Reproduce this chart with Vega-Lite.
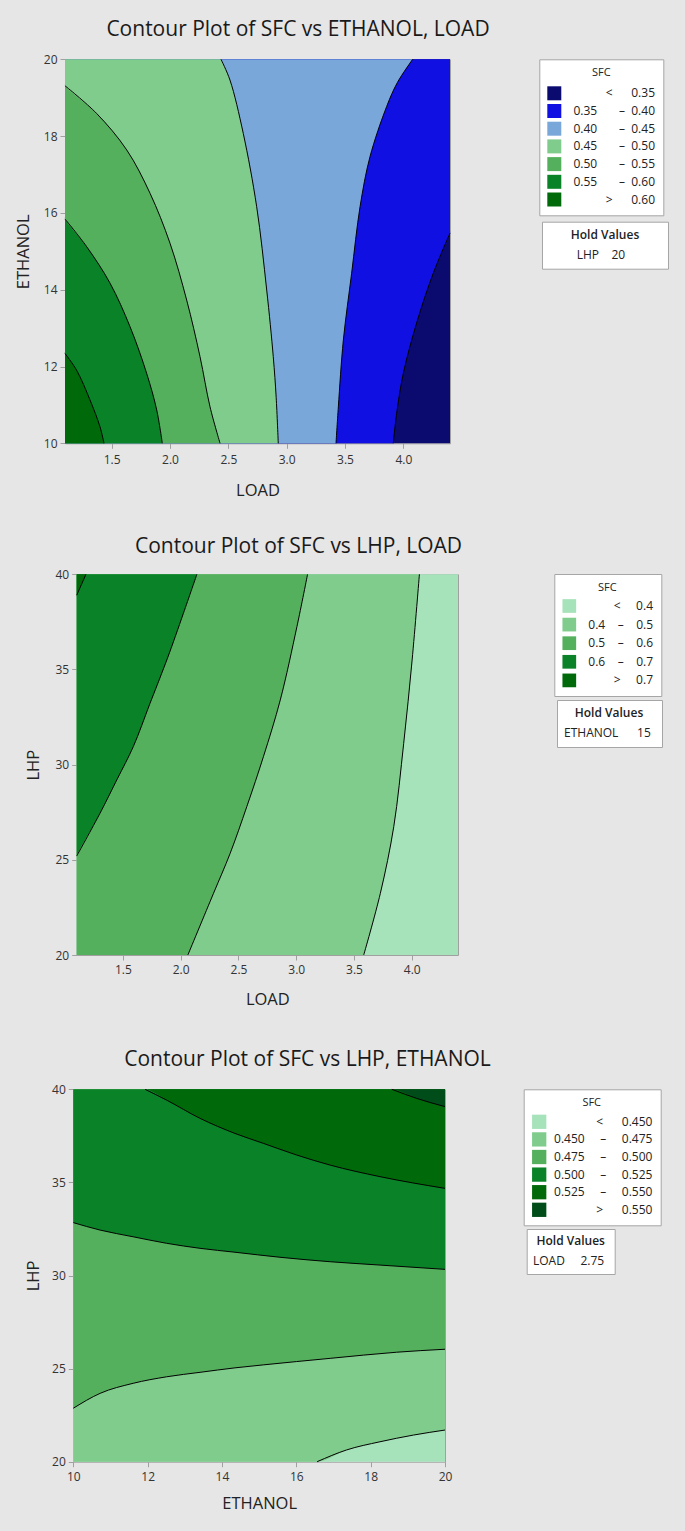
{
  "$schema": "https://vega.github.io/schema/vega-lite/v6.json",
  "width": 685,
  "height": 1531,
  "autosize": {"type": "none"},
  "padding": 0,
  "background": "#e6e6e6",
  "datasets": {
    "p1": [
      {"c": "bg", "band": "< 0.35", "LOAD": 4.5, "ETHANOL": 10},
      {"c": "bg", "band": "< 0.35", "LOAD": 4.5, "ETHANOL": 20},
      {"c": "F", "band": "0.35 – 0.40", "LOAD": 3.914, "ETHANOL": 10},
      {"c": "F", "band": "0.35 – 0.40", "LOAD": 3.943, "ETHANOL": 10.78},
      {"c": "F", "band": "0.35 – 0.40", "LOAD": 4.0, "ETHANOL": 11.82},
      {"c": "F", "band": "0.35 – 0.40", "LOAD": 4.114, "ETHANOL": 13.13},
      {"c": "F", "band": "0.35 – 0.40", "LOAD": 4.257, "ETHANOL": 14.43},
      {"c": "F", "band": "0.35 – 0.40", "LOAD": 4.4, "ETHANOL": 15.47},
      {"c": "F", "band": "0.35 – 0.40", "LOAD": 4.5, "ETHANOL": 15.55},
      {"c": "F", "band": "0.35 – 0.40", "LOAD": 4.5, "ETHANOL": 20},
      {"c": "E", "band": "0.40 – 0.45", "LOAD": 3.423, "ETHANOL": 10},
      {"c": "E", "band": "0.40 – 0.45", "LOAD": 3.443, "ETHANOL": 10.95},
      {"c": "E", "band": "0.40 – 0.45", "LOAD": 3.486, "ETHANOL": 12.69},
      {"c": "E", "band": "0.40 – 0.45", "LOAD": 3.557, "ETHANOL": 14.43},
      {"c": "E", "band": "0.40 – 0.45", "LOAD": 3.629, "ETHANOL": 16.16},
      {"c": "E", "band": "0.40 – 0.45", "LOAD": 3.714, "ETHANOL": 17.46},
      {"c": "E", "band": "0.40 – 0.45", "LOAD": 3.857, "ETHANOL": 18.77},
      {"c": "E", "band": "0.40 – 0.45", "LOAD": 3.95, "ETHANOL": 19.4},
      {"c": "E", "band": "0.40 – 0.45", "LOAD": 4.08, "ETHANOL": 20},
      {"c": "D", "band": "0.45 – 0.50", "LOAD": 2.928, "ETHANOL": 10},
      {"c": "D", "band": "0.45 – 0.50", "LOAD": 2.91, "ETHANOL": 11.2},
      {"c": "D", "band": "0.45 – 0.50", "LOAD": 2.885, "ETHANOL": 12.26},
      {"c": "D", "band": "0.45 – 0.50", "LOAD": 2.829, "ETHANOL": 13.99},
      {"c": "D", "band": "0.45 – 0.50", "LOAD": 2.743, "ETHANOL": 16.16},
      {"c": "D", "band": "0.45 – 0.50", "LOAD": 2.628, "ETHANOL": 18.07},
      {"c": "D", "band": "0.45 – 0.50", "LOAD": 2.514, "ETHANOL": 19.46},
      {"c": "D", "band": "0.45 – 0.50", "LOAD": 2.437, "ETHANOL": 20},
      {"c": "C", "band": "0.50 – 0.55", "LOAD": 2.429, "ETHANOL": 10},
      {"c": "C", "band": "0.50 – 0.55", "LOAD": 2.343, "ETHANOL": 10.95},
      {"c": "C", "band": "0.50 – 0.55", "LOAD": 2.257, "ETHANOL": 12.26},
      {"c": "C", "band": "0.50 – 0.55", "LOAD": 2.143, "ETHANOL": 13.73},
      {"c": "C", "band": "0.50 – 0.55", "LOAD": 2.0, "ETHANOL": 15.21},
      {"c": "C", "band": "0.50 – 0.55", "LOAD": 1.829, "ETHANOL": 16.51},
      {"c": "C", "band": "0.50 – 0.55", "LOAD": 1.629, "ETHANOL": 17.64},
      {"c": "C", "band": "0.50 – 0.55", "LOAD": 1.371, "ETHANOL": 18.59},
      {"c": "C", "band": "0.50 – 0.55", "LOAD": 1.1, "ETHANOL": 19.31},
      {"c": "C", "band": "0.50 – 0.55", "LOAD": 1.0, "ETHANOL": 19.36},
      {"c": "C", "band": "0.50 – 0.55", "LOAD": 1.0, "ETHANOL": 20},
      {"c": "B", "band": "0.55 – 0.60", "LOAD": 1.934, "ETHANOL": 10},
      {"c": "B", "band": "0.55 – 0.60", "LOAD": 1.886, "ETHANOL": 10.87},
      {"c": "B", "band": "0.55 – 0.60", "LOAD": 1.8, "ETHANOL": 11.82},
      {"c": "B", "band": "0.55 – 0.60", "LOAD": 1.657, "ETHANOL": 13.04},
      {"c": "B", "band": "0.55 – 0.60", "LOAD": 1.486, "ETHANOL": 14.17},
      {"c": "B", "band": "0.55 – 0.60", "LOAD": 1.286, "ETHANOL": 15.12},
      {"c": "B", "band": "0.55 – 0.60", "LOAD": 1.1, "ETHANOL": 15.84},
      {"c": "B", "band": "0.55 – 0.60", "LOAD": 1.0, "ETHANOL": 15.9},
      {"c": "B", "band": "0.55 – 0.60", "LOAD": 1.0, "ETHANOL": 20},
      {"c": "A", "band": "> 0.60", "LOAD": 1.434, "ETHANOL": 10},
      {"c": "A", "band": "> 0.60", "LOAD": 1.4, "ETHANOL": 10.43},
      {"c": "A", "band": "> 0.60", "LOAD": 1.314, "ETHANOL": 11.13},
      {"c": "A", "band": "> 0.60", "LOAD": 1.2, "ETHANOL": 11.9},
      {"c": "A", "band": "> 0.60", "LOAD": 1.1, "ETHANOL": 12.34},
      {"c": "A", "band": "> 0.60", "LOAD": 1.0, "ETHANOL": 12.4},
      {"c": "A", "band": "> 0.60", "LOAD": 1.0, "ETHANOL": 20}
    ],
    "p2": [
      {"c": "bg", "band": "< 0.4", "LOAD": 4.5, "LHP": 20},
      {"c": "bg", "band": "< 0.4", "LOAD": 4.5, "LHP": 40},
      {"c": "S", "band": "0.4 – 0.5", "LOAD": 3.584, "LHP": 20},
      {"c": "S", "band": "0.4 – 0.5", "LOAD": 3.728, "LHP": 23.24},
      {"c": "S", "band": "0.4 – 0.5", "LOAD": 3.844, "LHP": 26.74},
      {"c": "S", "band": "0.4 – 0.5", "LOAD": 3.93, "LHP": 31.12},
      {"c": "S", "band": "0.4 – 0.5", "LOAD": 4.003, "LHP": 35.5},
      {"c": "S", "band": "0.4 – 0.5", "LOAD": 4.066, "LHP": 40},
      {"c": "R", "band": "0.5 – 0.6", "LOAD": 2.062, "LHP": 20},
      {"c": "R", "band": "0.5 – 0.6", "LOAD": 2.284, "LHP": 23.24},
      {"c": "R", "band": "0.5 – 0.6", "LOAD": 2.428, "LHP": 25.34},
      {"c": "R", "band": "0.5 – 0.6", "LOAD": 2.573, "LHP": 27.81},
      {"c": "R", "band": "0.5 – 0.6", "LOAD": 2.717, "LHP": 30.44},
      {"c": "R", "band": "0.5 – 0.6", "LOAD": 2.862, "LHP": 33.4},
      {"c": "R", "band": "0.5 – 0.6", "LOAD": 3.006, "LHP": 37.25},
      {"c": "R", "band": "0.5 – 0.6", "LOAD": 3.098, "LHP": 40},
      {"c": "Q", "band": "0.6 – 0.7", "LOAD": 1.0, "LHP": 20},
      {"c": "Q", "band": "0.6 – 0.7", "LOAD": 1.0, "LHP": 25.1},
      {"c": "Q", "band": "0.6 – 0.7", "LOAD": 1.1, "LHP": 25.2},
      {"c": "Q", "band": "0.6 – 0.7", "LOAD": 1.302, "LHP": 27.45},
      {"c": "Q", "band": "0.6 – 0.7", "LOAD": 1.447, "LHP": 29.2},
      {"c": "Q", "band": "0.6 – 0.7", "LOAD": 1.59, "LHP": 30.95},
      {"c": "Q", "band": "0.6 – 0.7", "LOAD": 1.735, "LHP": 33.23},
      {"c": "Q", "band": "0.6 – 0.7", "LOAD": 1.88, "LHP": 35.5},
      {"c": "Q", "band": "0.6 – 0.7", "LOAD": 2.024, "LHP": 37.96},
      {"c": "Q", "band": "0.6 – 0.7", "LOAD": 2.14, "LHP": 40},
      {"c": "P", "band": "> 0.7", "LOAD": 1.0, "LHP": 20},
      {"c": "P", "band": "> 0.7", "LOAD": 1.0, "LHP": 38.8},
      {"c": "P", "band": "> 0.7", "LOAD": 1.1, "LHP": 38.9},
      {"c": "P", "band": "> 0.7", "LOAD": 1.18, "LHP": 40}
    ],
    "p3": [
      {"c": "bg", "band": "< 0.450", "ETHANOL": 10, "LHP": 19.5},
      {"c": "bg", "band": "< 0.450", "ETHANOL": 20, "LHP": 19.5},
      {"c": "V5", "band": "0.450 – 0.475", "ETHANOL": 10, "LHP": 19},
      {"c": "V5", "band": "0.450 – 0.475", "ETHANOL": 16.45, "LHP": 19.9},
      {"c": "V5", "band": "0.450 – 0.475", "ETHANOL": 16.56, "LHP": 20},
      {"c": "V5", "band": "0.450 – 0.475", "ETHANOL": 17.35, "LHP": 20.63},
      {"c": "V5", "band": "0.450 – 0.475", "ETHANOL": 18.25, "LHP": 21.07},
      {"c": "V5", "band": "0.450 – 0.475", "ETHANOL": 19.15, "LHP": 21.43},
      {"c": "V5", "band": "0.450 – 0.475", "ETHANOL": 20, "LHP": 21.7},
      {"c": "V4", "band": "0.475 – 0.500", "ETHANOL": 10, "LHP": 22.87},
      {"c": "V4", "band": "0.475 – 0.500", "ETHANOL": 10.72, "LHP": 23.67},
      {"c": "V4", "band": "0.475 – 0.500", "ETHANOL": 11.61, "LHP": 24.21},
      {"c": "V4", "band": "0.475 – 0.500", "ETHANOL": 12.51, "LHP": 24.56},
      {"c": "V4", "band": "0.475 – 0.500", "ETHANOL": 13.41, "LHP": 24.8},
      {"c": "V4", "band": "0.475 – 0.500", "ETHANOL": 14.35, "LHP": 25.04},
      {"c": "V4", "band": "0.475 – 0.500", "ETHANOL": 15.11, "LHP": 25.2},
      {"c": "V4", "band": "0.475 – 0.500", "ETHANOL": 16.91, "LHP": 25.55},
      {"c": "V4", "band": "0.475 – 0.500", "ETHANOL": 18.7, "LHP": 25.88},
      {"c": "V4", "band": "0.475 – 0.500", "ETHANOL": 20, "LHP": 26.04},
      {"c": "V3", "band": "0.500 – 0.525", "ETHANOL": 10, "LHP": 32.84},
      {"c": "V3", "band": "0.500 – 0.525", "ETHANOL": 10.72, "LHP": 32.44},
      {"c": "V3", "band": "0.500 – 0.525", "ETHANOL": 11.61, "LHP": 32.08},
      {"c": "V3", "band": "0.500 – 0.525", "ETHANOL": 12.51, "LHP": 31.73},
      {"c": "V3", "band": "0.500 – 0.525", "ETHANOL": 13.41, "LHP": 31.46},
      {"c": "V3", "band": "0.500 – 0.525", "ETHANOL": 14.35, "LHP": 31.25},
      {"c": "V3", "band": "0.500 – 0.525", "ETHANOL": 15.56, "LHP": 30.98},
      {"c": "V3", "band": "0.500 – 0.525", "ETHANOL": 16.91, "LHP": 30.74},
      {"c": "V3", "band": "0.500 – 0.525", "ETHANOL": 18.25, "LHP": 30.56},
      {"c": "V3", "band": "0.500 – 0.525", "ETHANOL": 20, "LHP": 30.33},
      {"c": "V2", "band": "0.525 – 0.550", "ETHANOL": 10, "LHP": 41},
      {"c": "V2", "band": "0.525 – 0.550", "ETHANOL": 11.85, "LHP": 40.1},
      {"c": "V2", "band": "0.525 – 0.550", "ETHANOL": 11.93, "LHP": 40},
      {"c": "V2", "band": "0.525 – 0.550", "ETHANOL": 12.51, "LHP": 39.42},
      {"c": "V2", "band": "0.525 – 0.550", "ETHANOL": 13.41, "LHP": 38.44},
      {"c": "V2", "band": "0.525 – 0.550", "ETHANOL": 14.35, "LHP": 37.63},
      {"c": "V2", "band": "0.525 – 0.550", "ETHANOL": 15.11, "LHP": 37.1},
      {"c": "V2", "band": "0.525 – 0.550", "ETHANOL": 16.01, "LHP": 36.47},
      {"c": "V2", "band": "0.525 – 0.550", "ETHANOL": 16.91, "LHP": 35.93},
      {"c": "V2", "band": "0.525 – 0.550", "ETHANOL": 18.25, "LHP": 35.31},
      {"c": "V2", "band": "0.525 – 0.550", "ETHANOL": 20, "LHP": 34.68},
      {"c": "V1", "band": "> 0.550", "ETHANOL": 10, "LHP": 41},
      {"c": "V1", "band": "> 0.550", "ETHANOL": 18.5, "LHP": 40.05},
      {"c": "V1", "band": "> 0.550", "ETHANOL": 18.57, "LHP": 40},
      {"c": "V1", "band": "> 0.550", "ETHANOL": 19.24, "LHP": 39.51},
      {"c": "V1", "band": "> 0.550", "ETHANOL": 20, "LHP": 39.07}
    ]
  },
  "layer": [
    {
      "data": {"name": "p1"},
      "layer": [
        {
          "mark": {"type": "area", "orient": "horizontal", "interpolate": "catmull-rom"},
          "encoding": {
            "y": {"field": "ETHANOL", "type": "quantitative",
              "scale": {"domain": [10, 20], "range": [443.3, 59.3], "clamp": true, "nice": false, "zero": false},
              "axis": {"orient": "left", "offset": -65, "values": [10, 12, 14, 16, 18, 20], "title": "ETHANOL", "titleX": -42, "titleY": 251.3, "titleAngle": 270, "titleBaseline": "middle", "titleAlign": "center", "labelPadding": 3}},
            "x": {"field": "LOAD", "type": "quantitative",
              "scale": {"domain": [1.1, 4.4], "range": [65, 450], "clamp": true, "nice": false, "zero": false},
              "axis": {"orient": "bottom", "offset": -1087.7, "values": [1.5, 2, 2.5, 3, 3.5, 4], "format": ".1f", "title": "LOAD", "titleY": 46.7, "titleBaseline": "middle", "labelPadding": 6}},
            "x2": {"datum": 1.1},
            "color": {"field": "band", "type": "nominal",
              "scale": {"domain": ["< 0.35", "0.35 – 0.40", "0.40 – 0.45", "0.45 – 0.50", "0.50 – 0.55", "0.55 – 0.60", "> 0.60"],
                        "range": ["#0b0b6f", "#1010e2", "#7aa7d9", "#80cc8c", "#55b05d", "#0a8228", "#006a0a"]},
              "legend": {"title": "SFC", "orient": "none", "legendX": 539.3, "legendY": 59.3, "direction": "vertical",
                "fillColor": "white", "strokeColor": "#a6a6a6", "padding": 8,
                "symbolType": "square", "symbolSize": 196, "symbolStrokeWidth": 0,
                "labelFontSize": 12, "labelColor": "#222222", "labelAlign": "right", "labelOffset": 93.7, "rowPadding": 3.7,
                "titleAnchor": "middle", "titleFontSize": 11, "titleFontWeight": "normal", "titleColor": "#222222", "titlePadding": 8,
                "labelExpr": "replace(replace(replace(datum.label, ' – ', '\u00a0\u00a0\u00a0\u00a0\u00a0\u00a0\u00a0–\u00a0\u00a0'), '< ', '<\u00a0\u00a0\u00a0\u00a0\u00a0\u00a0'), '> ', '>\u00a0\u00a0\u00a0\u00a0\u00a0\u00a0')"}}
          }
        },
        {
          "transform": [{"filter": "datum.LOAD >= 1.1 && datum.LOAD <= 4.4"}],
          "mark": {"type": "line", "color": "black", "strokeWidth": 1, "interpolate": "catmull-rom"},
          "encoding": {
            "x": {"field": "LOAD", "type": "quantitative",
              "axis": {"orient": "top", "offset": -59.3, "labels": false, "ticks": false, "title": "Contour Plot of SFC vs ETHANOL, LOAD", "titleFontSize": 21, "titleColor": "#1a1a1a", "titleX": 297.5, "titleY": -24.3, "titleAlign": "center", "titleBaseline": "alphabetic"}},
            "y": {"field": "ETHANOL", "type": "quantitative",
              "axis": {"orient": "right", "offset": -235, "labels": false, "ticks": false, "title": null}},
            "detail": {"field": "c"},
            "order": {"field": "ETHANOL", "type": "quantitative"}
          }
        },
        {
          "data": {"values": [{"hold": "LHP 20", "LOAD": 2.75, "ETHANOL": 15}]},
          "mark": {"type": "point", "opacity": 0},
          "encoding": {
            "x": {"field": "LOAD", "type": "quantitative", "axis": null},
            "y": {"field": "ETHANOL", "type": "quantitative", "axis": null},
            "shape": {"field": "hold", "type": "nominal",
              "legend": {"title": "Hold Values", "orient": "none", "legendX": 542, "legendY": 221.7,
                "fillColor": "white", "strokeColor": "#a6a6a6", "padding": 8,
                "symbolSize": 1, "symbolOpacity": 0, "symbolStrokeWidth": 0,
                "labelFontSize": 12, "labelColor": "#222222", "labelOffset": 14.7,
                "titleAnchor": "middle", "titleFontSize": 12, "titleFontWeight": 600, "titleColor": "#222222", "titlePadding": 7,
                "labelExpr": "replace(datum.label, ' ', '\u00a0\u00a0\u00a0\u00a0') + '\u00a0\u00a0\u00a0\u00a0\u00a0\u00a0\u00a0\u00a0\u00a0\u00a0\u00a0\u200b'"}}
          }
        }
      ],
      "resolve": {"axis": {"x": "independent", "y": "independent"}}
    },
    {
      "data": {"name": "p2"},
      "layer": [
        {
          "mark": {"type": "area", "orient": "horizontal", "interpolate": "catmull-rom"},
          "encoding": {
            "y": {"field": "LHP", "type": "quantitative",
              "scale": {"domain": [20, 40], "range": [955, 574.3], "clamp": true, "nice": false, "zero": false},
              "axis": {"orient": "left", "offset": -76.7, "values": [20, 25, 30, 35, 40], "title": "LHP", "titleX": -43.4, "titleY": 764.7, "titleAngle": 270, "titleBaseline": "middle", "titleAlign": "center", "labelPadding": 3}},
            "x": {"field": "LOAD", "type": "quantitative",
              "scale": {"domain": [1.1, 4.4], "range": [76.7, 458], "clamp": true, "nice": false, "zero": false},
              "axis": {"orient": "bottom", "offset": -576, "values": [1.5, 2, 2.5, 3, 3.5, 4], "format": ".1f", "title": "LOAD", "titleY": 44.3, "titleBaseline": "middle", "labelPadding": 4.5}},
            "x2": {"datum": 1.1},
            "color": {"field": "band", "type": "nominal",
              "scale": {"domain": ["< 0.4", "0.4 – 0.5", "0.5 – 0.6", "0.6 – 0.7", "> 0.7"],
                        "range": ["#a6e3bb", "#80cc8c", "#55b05d", "#0a8228", "#006a0a"]},
              "legend": {"title": "SFC", "orient": "none", "legendX": 554.3, "legendY": 574, "direction": "vertical",
                "fillColor": "white", "strokeColor": "#a6a6a6", "padding": 8,
                "symbolType": "square", "symbolSize": 188, "symbolStrokeWidth": 0,
                "labelFontSize": 12, "labelColor": "#222222", "labelAlign": "right", "labelOffset": 76.7, "rowPadding": 4.6,
                "titleAnchor": "middle", "titleFontSize": 11, "titleFontWeight": "normal", "titleColor": "#222222", "titlePadding": 6,
                "labelExpr": "replace(replace(replace(datum.label, ' – ', '\u00a0\u00a0\u00a0\u00a0–\u00a0\u00a0\u00a0\u00a0'), '< ', '<\u00a0\u00a0\u00a0\u00a0\u00a0'), '> ', '>\u00a0\u00a0\u00a0\u00a0\u00a0')"}}
          }
        },
        {
          "transform": [{"filter": "datum.LOAD >= 1.1 && datum.LOAD <= 4.4"}],
          "mark": {"type": "line", "color": "black", "strokeWidth": 1, "interpolate": "catmull-rom"},
          "encoding": {
            "x": {"field": "LOAD", "type": "quantitative",
              "axis": {"orient": "top", "offset": -574.3, "labels": false, "ticks": false, "title": "Contour Plot of SFC vs LHP, LOAD", "titleFontSize": 21, "titleColor": "#1a1a1a", "titleX": 298, "titleY": -22.3, "titleAlign": "center", "titleBaseline": "alphabetic"}},
            "y": {"field": "LHP", "type": "quantitative",
              "axis": {"orient": "right", "offset": -227, "labels": false, "ticks": false, "title": null}},
            "detail": {"field": "c"},
            "order": {"field": "LHP", "type": "quantitative"}
          }
        },
        {
          "data": {"values": [{"hold": "ETHANOL 15", "LOAD": 2.75, "LHP": 30}]},
          "mark": {"type": "point", "opacity": 0},
          "encoding": {
            "x": {"field": "LOAD", "type": "quantitative", "axis": null},
            "y": {"field": "LHP", "type": "quantitative", "axis": null},
            "shape": {"field": "hold", "type": "nominal",
              "legend": {"title": "Hold Values", "orient": "none", "legendX": 557, "legendY": 700,
                "fillColor": "white", "strokeColor": "#a6a6a6", "padding": 8,
                "symbolSize": 1, "symbolOpacity": 0, "symbolStrokeWidth": 0,
                "labelFontSize": 12, "labelColor": "#222222", "labelOffset": -13,
                "titleAnchor": "middle", "titleFontSize": 12, "titleFontWeight": 600, "titleColor": "#222222", "titlePadding": 7,
                "labelExpr": "replace(datum.label, ' ', '\u00a0\u00a0\u00a0\u00a0\u00a0\u00a0') + '\u00a0\u200b'"}}
          }
        }
      ],
      "resolve": {"axis": {"x": "independent", "y": "independent"}}
    },
    {
      "data": {"name": "p3"},
      "layer": [
        {
          "mark": {"type": "area", "orient": "vertical", "interpolate": "monotone"},
          "encoding": {
            "x": {"field": "ETHANOL", "type": "quantitative",
              "scale": {"domain": [10, 20], "range": [73.3, 445], "clamp": true, "nice": false, "zero": false},
              "axis": {"orient": "bottom", "offset": -69.3, "values": [10, 12, 14, 16, 18, 20], "format": "d", "title": "ETHANOL", "titleY": 41.6, "titleBaseline": "middle", "labelPadding": 4.5}},
            "y": {"field": "LHP", "type": "quantitative",
              "scale": {"domain": [20, 40], "range": [1461.7, 1089.3], "clamp": true, "nice": false, "zero": false},
              "axis": {"orient": "left", "offset": -73.3, "values": [20, 25, 30, 35, 40], "title": "LHP", "titleX": -40, "titleY": 1275.5, "titleAngle": 270, "titleBaseline": "middle", "titleAlign": "center", "labelPadding": 3}},
            "y2": {"datum": 40},
            "color": {"field": "band", "type": "nominal",
              "scale": {"domain": ["< 0.450", "0.450 – 0.475", "0.475 – 0.500", "0.500 – 0.525", "0.525 – 0.550", "> 0.550"],
                        "range": ["#a6e3bb", "#80cc8c", "#55b05d", "#0a8228", "#006a0a", "#004d1a"]},
              "legend": {"title": "SFC", "orient": "none", "legendX": 523.7, "legendY": 1089.3, "direction": "vertical",
                "fillColor": "white", "strokeColor": "#a6a6a6", "padding": 8,
                "symbolType": "square", "symbolSize": 204, "symbolStrokeWidth": 0,
                "labelFontSize": 12, "labelColor": "#222222", "labelAlign": "right", "labelOffset": 105.7, "rowPadding": 2.6,
                "titleAnchor": "middle", "titleFontSize": 11, "titleFontWeight": "normal", "titleColor": "#222222", "titlePadding": 6,
                "labelExpr": "replace(replace(replace(datum.label, ' – ', '\u00a0\u00a0\u00a0\u00a0\u00a0–\u00a0\u00a0\u00a0\u00a0\u00a0'), '< ', '<\u00a0\u00a0\u00a0\u00a0\u00a0\u00a0'), '> ', '>\u00a0\u00a0\u00a0\u00a0\u00a0\u00a0')"}}
          }
        },
        {
          "transform": [{"filter": "datum.LHP >= 20 && datum.LHP <= 40"}],
          "mark": {"type": "line", "color": "black", "strokeWidth": 1, "interpolate": "monotone"},
          "encoding": {
            "x": {"field": "ETHANOL", "type": "quantitative",
              "axis": {"orient": "top", "offset": -1089.3, "labels": false, "ticks": false, "title": "Contour Plot of SFC vs LHP, ETHANOL", "titleFontSize": 21, "titleColor": "#1a1a1a", "titleX": 307, "titleY": -24.3, "titleAlign": "center", "titleBaseline": "alphabetic"}},
            "y": {"field": "LHP", "type": "quantitative",
              "axis": {"orient": "right", "offset": -240, "labels": false, "ticks": false, "title": null}},
            "detail": {"field": "c"},
            "order": {"field": "ETHANOL", "type": "quantitative"}
          }
        },
        {
          "data": {"values": [{"hold": "LOAD 2.75", "ETHANOL": 15, "LHP": 30}]},
          "mark": {"type": "point", "opacity": 0},
          "encoding": {
            "x": {"field": "ETHANOL", "type": "quantitative", "axis": null},
            "y": {"field": "LHP", "type": "quantitative", "axis": null},
            "shape": {"field": "hold", "type": "nominal",
              "legend": {"title": "Hold Values", "orient": "none", "legendX": 526.7, "legendY": 1229,
                "fillColor": "white", "strokeColor": "#a6a6a6", "padding": 7,
                "symbolSize": 1, "symbolOpacity": 0, "symbolStrokeWidth": 0,
                "labelFontSize": 12, "labelColor": "#222222", "labelOffset": -12.7,
                "titleAnchor": "middle", "titleFontSize": 12, "titleFontWeight": 600, "titleColor": "#222222", "titlePadding": 7,
                "labelExpr": "replace(datum.label, ' ', '\u00a0\u00a0\u00a0\u00a0\u00a0') + '\u00a0\u200b'"}}
          }
        }
      ],
      "resolve": {"axis": {"x": "independent", "y": "independent"}}
    }
  ],
  "resolve": {
    "scale": {"x": "independent", "y": "independent", "color": "independent", "shape": "independent"},
    "axis": {"x": "independent", "y": "independent"},
    "legend": {"color": "independent", "shape": "independent"}
  },
  "config": {
    "font": "Open Sans",
    "view": {"stroke": null},
    "axis": {
      "grid": false,
      "domainColor": "#a0a0a0",
      "tickColor": "#a0a0a0",
      "tickSize": 5,
      "labelColor": "#333333",
      "labelFontSize": 12,
      "labelFlush": false,
      "labelOverlap": false,
      "titleColor": "#222222",
      "titleFontSize": 16.5,
      "titleFontWeight": "normal"
    }
  }
}
